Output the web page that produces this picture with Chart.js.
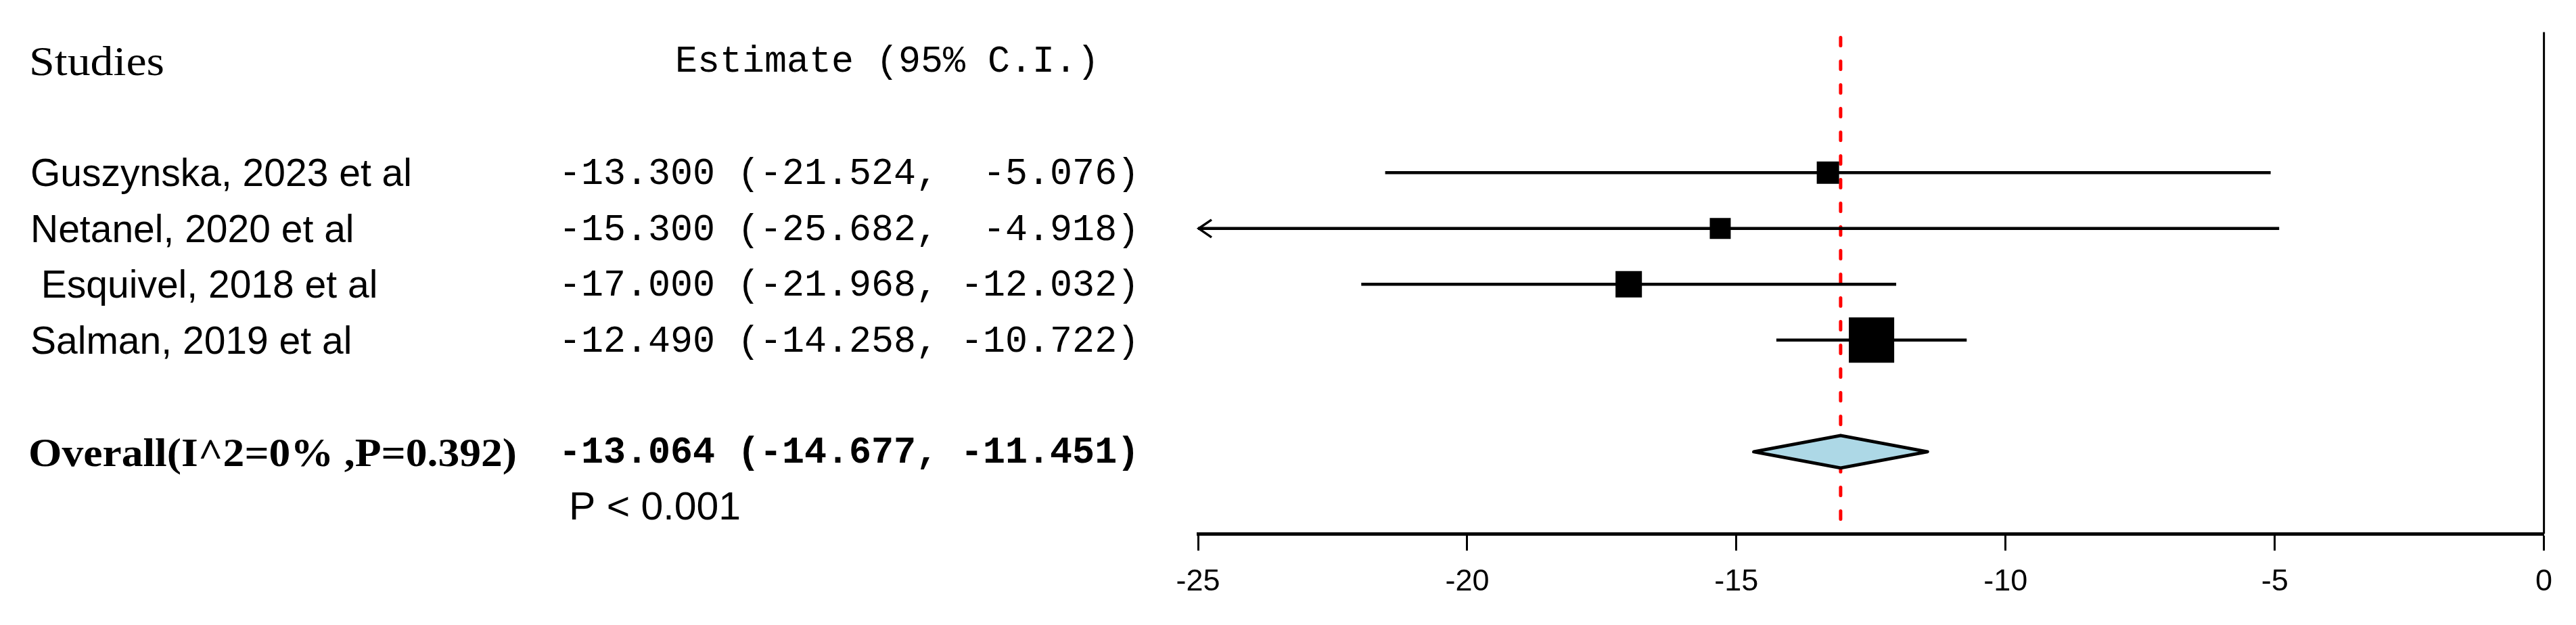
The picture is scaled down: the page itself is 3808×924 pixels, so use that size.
<!DOCTYPE html>
<html><head><meta charset="utf-8">
<script src="https://cdn.jsdelivr.net/npm/chart.js@4.4.1/dist/chart.umd.min.js"></script>
<style>html,body{margin:0;padding:0;background:#fff;overflow:hidden}#wrap{width:3808px;height:924px;position:relative}</style>
</head><body><div id="wrap"><canvas id="c" width="3808" height="924"></canvas></div>
<script>
const studies = ["Guszynska, 2023 et al", "Netanel, 2020 et al", " Esquivel, 2018 et al", "Salman, 2019 et al"];
const estimates = [-13.300, -15.300, -17.000, -12.490];
const lowers = [-21.524, -25.682, -21.968, -14.258];
const uppers = [-5.076, -4.918, -12.032, -10.722];
const weights = [3.9, 2.4, 10.5, 83.2];
const overallLabel = "Overall(I^2=0% ,P=0.392)";
const overall = [-13.064, -14.677, -11.451];
const pValueText = "P < 0.001";
const headerStudies = "Studies";
const headerEstimate = "Estimate (95% C.I.)";
const xTicks = [-25, -20, -15, -10, -5, 0];

const fmt = v => v.toFixed(3).padStart(7, ' ');
const ciText = (e, l, u) => fmt(e) + " (" + fmt(l) + ", " + fmt(u) + ")";
const boxRadius = w => (23.6 + 4.76 * Math.sqrt(w)) / Math.SQRT2;

function drawFit(ctx, text, x, y, font, width) {
  ctx.save();
  ctx.font = font;
  const m = ctx.measureText(text).width;
  const s = width ? width / m : 1;
  ctx.translate(x, y);
  ctx.scale(s, 1);
  ctx.fillText(text, 0, 0);
  ctx.restore();
}

const forestPlugin = {
  id: 'forest',
  beforeDatasetsDraw(chart) {
    const ctx = chart.ctx, xs = chart.scales.x, ys = chart.scales.y, a = chart.chartArea;
    ctx.save();
    ctx.strokeStyle = '#000'; ctx.lineWidth = 3;
    const x0 = xs.getPixelForValue(0);
    ctx.beginPath(); ctx.moveTo(x0, a.top); ctx.lineTo(x0, a.bottom); ctx.stroke();
    const xr = xs.getPixelForValue(overall[0]);
    ctx.strokeStyle = '#FF0000'; ctx.lineWidth = 5; ctx.lineCap = 'round';
    ctx.setLineDash([12, 23]);
    ctx.beginPath(); ctx.moveTo(xr, a.top + 8); ctx.lineTo(xr, a.bottom); ctx.stroke();
    ctx.setLineDash([]);
    ctx.strokeStyle = '#000'; ctx.lineWidth = 4.5; ctx.lineCap = 'butt';
    studies.forEach((s, i) => {
      const y = ys.getPixelForValue(i);
      const lo = Math.max(lowers[i], xs.min), hi = Math.min(uppers[i], xs.max);
      const x1 = xs.getPixelForValue(lo), x2 = xs.getPixelForValue(hi);
      ctx.beginPath(); ctx.moveTo(x1, y); ctx.lineTo(x2, y); ctx.stroke();
      if (lowers[i] < xs.min) {
        ctx.save(); ctx.lineWidth = 3.5; ctx.lineJoin = 'miter';
        ctx.beginPath(); ctx.moveTo(x1 + 20, y - 13); ctx.lineTo(x1 + 1, y); ctx.lineTo(x1 + 20, y + 13); ctx.stroke();
        ctx.restore();
      }
      if (uppers[i] > xs.max) {
        ctx.save(); ctx.lineWidth = 3.5;
        ctx.beginPath(); ctx.moveTo(x2 - 20, y - 13); ctx.lineTo(x2 - 1, y); ctx.lineTo(x2 - 20, y + 13); ctx.stroke();
        ctx.restore();
      }
    });
    const yd = ys.getPixelForValue(5);
    const h = 24;
    ctx.beginPath();
    ctx.moveTo(xs.getPixelForValue(overall[1]), yd);
    ctx.lineTo(xs.getPixelForValue(overall[0]), yd - h);
    ctx.lineTo(xs.getPixelForValue(overall[2]), yd);
    ctx.lineTo(xs.getPixelForValue(overall[0]), yd + h);
    ctx.closePath();
    ctx.fillStyle = '#ADD8E6'; ctx.fill();
    ctx.lineWidth = 5; ctx.lineJoin = 'round'; ctx.strokeStyle = '#000'; ctx.stroke();
    ctx.restore();
  },
  afterDraw(chart) {
    const ctx = chart.ctx, ys = chart.scales.y;
    ctx.save();
    ctx.fillStyle = '#000';
    ctx.textBaseline = 'alphabetic';
    ctx.textAlign = 'left';
    const yh = ys.getPixelForValue(-2);
    drawFit(ctx, headerStudies, 43, yh + 21, "62px 'Liberation Serif'", 200);
    drawFit(ctx, headerEstimate, 998, yh + 16, "55px 'Liberation Mono'", 0);
    studies.forEach((s, i) => {
      const y = ys.getPixelForValue(i);
      drawFit(ctx, s, 45, y + 20, "57px 'Liberation Sans'", 0);
      drawFit(ctx, ciText(estimates[i], lowers[i], uppers[i]), 826, y + 17, "55px 'Liberation Mono'", 0);
    });
    const yo = ys.getPixelForValue(5);
    drawFit(ctx, overallLabel, 42, yo + 21, "bold 60px 'Liberation Serif'", 722);
    drawFit(ctx, ciText(overall[0], overall[1], overall[2]), 826, yo + 16, "bold 55px 'Liberation Mono'", 0);
    const yp = ys.getPixelForValue(6);
    drawFit(ctx, pValueText, 841, yp + 18, "58px 'Liberation Sans'", 254);
    ctx.restore();
  }
};

new Chart(document.getElementById('c'), {
  type: 'scatter',
  data: {
    datasets: [{
      data: estimates.map((e, i) => ({ x: e, y: i })),
      pointStyle: 'rect',
      pointRadius: weights.map(boxRadius),
      pointHoverRadius: weights.map(boxRadius),
      backgroundColor: '#000',
      borderColor: '#000',
      borderWidth: 0,
      showLine: false
    }]
  },
  options: {
    responsive: false,
    animation: false,
    devicePixelRatio: 1,
    events: [],
    layout: { padding: { left: 1771, right: 44, top: 40, bottom: 0 } },
    plugins: { legend: { display: false }, tooltip: { enabled: false }, title: { display: false } },
    scales: {
      x: {
        type: 'linear', position: 'bottom', min: -25, max: 0,
        afterBuildTicks: s => { s.ticks = xTicks.map(v => ({ value: v })); },
        afterFit: s => { s.height = 924 - 789; },
        grid: { drawOnChartArea: false, drawTicks: true, tickLength: 25, tickWidth: 3, tickColor: '#000' },
        border: { display: true, color: '#000', width: 5 },
        ticks: { color: '#000', font: { family: 'Liberation Sans', size: 45 }, padding: 20, maxRotation: 0, autoSkip: false }
      },
      y: {
        type: 'linear', min: -2.52, max: 6.468, reverse: true, display: false
      }
    }
  },
  plugins: [forestPlugin]
});
</script></body></html>
